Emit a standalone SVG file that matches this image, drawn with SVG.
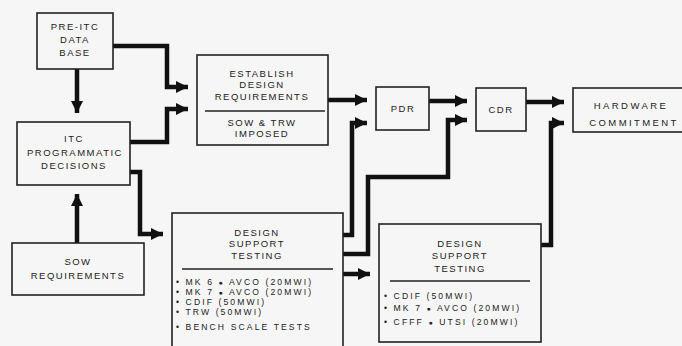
<svg xmlns="http://www.w3.org/2000/svg" width="682" height="346" viewBox="0 0 682 346">
<defs>
<marker id="ah" viewBox="0 0 10 10" refX="10" refY="5" markerWidth="2.7" markerHeight="2.7" orient="auto" markerUnits="strokeWidth">
<path d="M0,0 L10,5 L0,10 z" fill="#111"/>
</marker>
<style>
.box{fill:none;stroke:#222;stroke-width:1.6}
.div{stroke:#222;stroke-width:1.4}
.t{font-family:"Liberation Sans",Arial,sans-serif;font-size:9.5px;fill:#222;letter-spacing:1.5px;text-anchor:middle}
.w{letter-spacing:2.4px}
.l{font-family:"Liberation Sans",Arial,sans-serif;font-size:8.6px;fill:#222;letter-spacing:2.1px}
.c{fill:none;stroke:#111;stroke-width:4.5;stroke-linejoin:miter}
.dot{font-size:7px}
</style>
</defs>
<rect width="682" height="346" fill="#f6f6f6"/>
<g id="connectors">
<path class="c" d="M77,69 V113" marker-end="url(#ah)"/>
<path class="c" d="M77,243 V194" marker-end="url(#ah)"/>
<path class="c" d="M113,46 H167 V87 H188" marker-end="url(#ah)"/>
<path class="c" d="M130,142 H167 V109 H188" marker-end="url(#ah)"/>
<path class="c" d="M130,172 H140 V234 H163" marker-end="url(#ah)"/>
<path class="c" d="M328,100 H367" marker-end="url(#ah)"/>
<path class="c" d="M343,235 H352 V123 H367" marker-end="url(#ah)"/>
<path class="c" d="M429,101 H467" marker-end="url(#ah)"/>
<path class="c" d="M343,254 H368 V177 H448 V120 H467" marker-end="url(#ah)"/>
<path class="c" d="M343,274 H370" marker-end="url(#ah)"/>
<path class="c" d="M526,102 H564" marker-end="url(#ah)"/>
<path class="c" d="M541,245 H551 V123 H564" marker-end="url(#ah)"/>
</g>
<g id="pre-itc">
<rect class="box" x="37" y="13" width="76" height="56"/>
<text class="t" x="75" y="30">PRE-ITC</text>
<text class="t" x="75" y="43">DATA</text>
<text class="t" x="75" y="56">BASE</text>
</g>
<g id="itc">
<rect class="box" x="17" y="122" width="113" height="63"/>
<text class="t" x="74" y="142">ITC</text>
<text class="t" x="75" y="156">PROGRAMMATIC</text>
<text class="t" x="74" y="169">DECISIONS</text>
</g>
<g id="sow">
<rect class="box" x="12" y="243" width="132" height="52"/>
<text class="t" x="78" y="265">SOW</text>
<text class="t" x="78" y="279">REQUIREMENTS</text>
</g>
<g id="establish">
<rect class="box" x="197" y="55" width="131" height="90"/>
<text class="t" x="262" y="77">ESTABLISH</text>
<text class="t" x="262" y="88">DESIGN</text>
<text class="t" x="262" y="100">REQUIREMENTS</text>
<line class="div" x1="205" y1="111" x2="325" y2="111"/>
<text class="t" x="262" y="126">SOW &amp; TRW</text>
<text class="t" x="262" y="137">IMPOSED</text>
</g>
<g id="pdr">
<rect class="box" x="376" y="87" width="53" height="43"/>
<text class="t" x="403" y="112">PDR</text>
</g>
<g id="cdr">
<rect class="box" x="476" y="88" width="50" height="43"/>
<text class="t" x="501" y="113">CDR</text>
</g>
<g id="hardware">
<rect class="box" x="573" y="88" width="112" height="44"/>
<text class="t w" x="631" y="109">HARDWARE</text>
<text class="t w" x="634" y="126">COMMITMENT</text>
</g>
<g id="dst1">
<rect class="box" x="172" y="213" width="171" height="140"/>
<text class="t" x="257" y="236">DESIGN</text>
<text class="t" x="257" y="247">SUPPORT</text>
<text class="t" x="257" y="259">TESTING</text>
<line class="div" x1="182" y1="269" x2="333" y2="269"/>
<text class="l" x="176" y="285">• MK 6 <tspan class="dot">●</tspan> AVCO (20MWI)</text>
<text class="l" x="176" y="295">• MK 7 <tspan class="dot">●</tspan> AVCO (20MWI)</text>
<text class="l" x="176" y="305">• CDIF (50MWI)</text>
<text class="l" x="176" y="315">• TRW (50MWI)</text>
<text class="l" x="176" y="330">• BENCH SCALE TESTS</text>
</g>
<g id="dst2">
<rect class="box" x="379" y="224" width="162" height="118"/>
<text class="t" x="460" y="247">DESIGN</text>
<text class="t" x="460" y="259">SUPPORT</text>
<text class="t" x="460" y="272">TESTING</text>
<line class="div" x1="390" y1="281" x2="530" y2="281"/>
<text class="l" x="384" y="299">• CDIF (50MWI)</text>
<text class="l" x="384" y="311">• MK 7 <tspan class="dot">●</tspan> AVCO (20MWI)</text>
<text class="l" x="384" y="325">• CFFF <tspan class="dot">●</tspan> UTSI (20MWI)</text>
</g>
</svg>
